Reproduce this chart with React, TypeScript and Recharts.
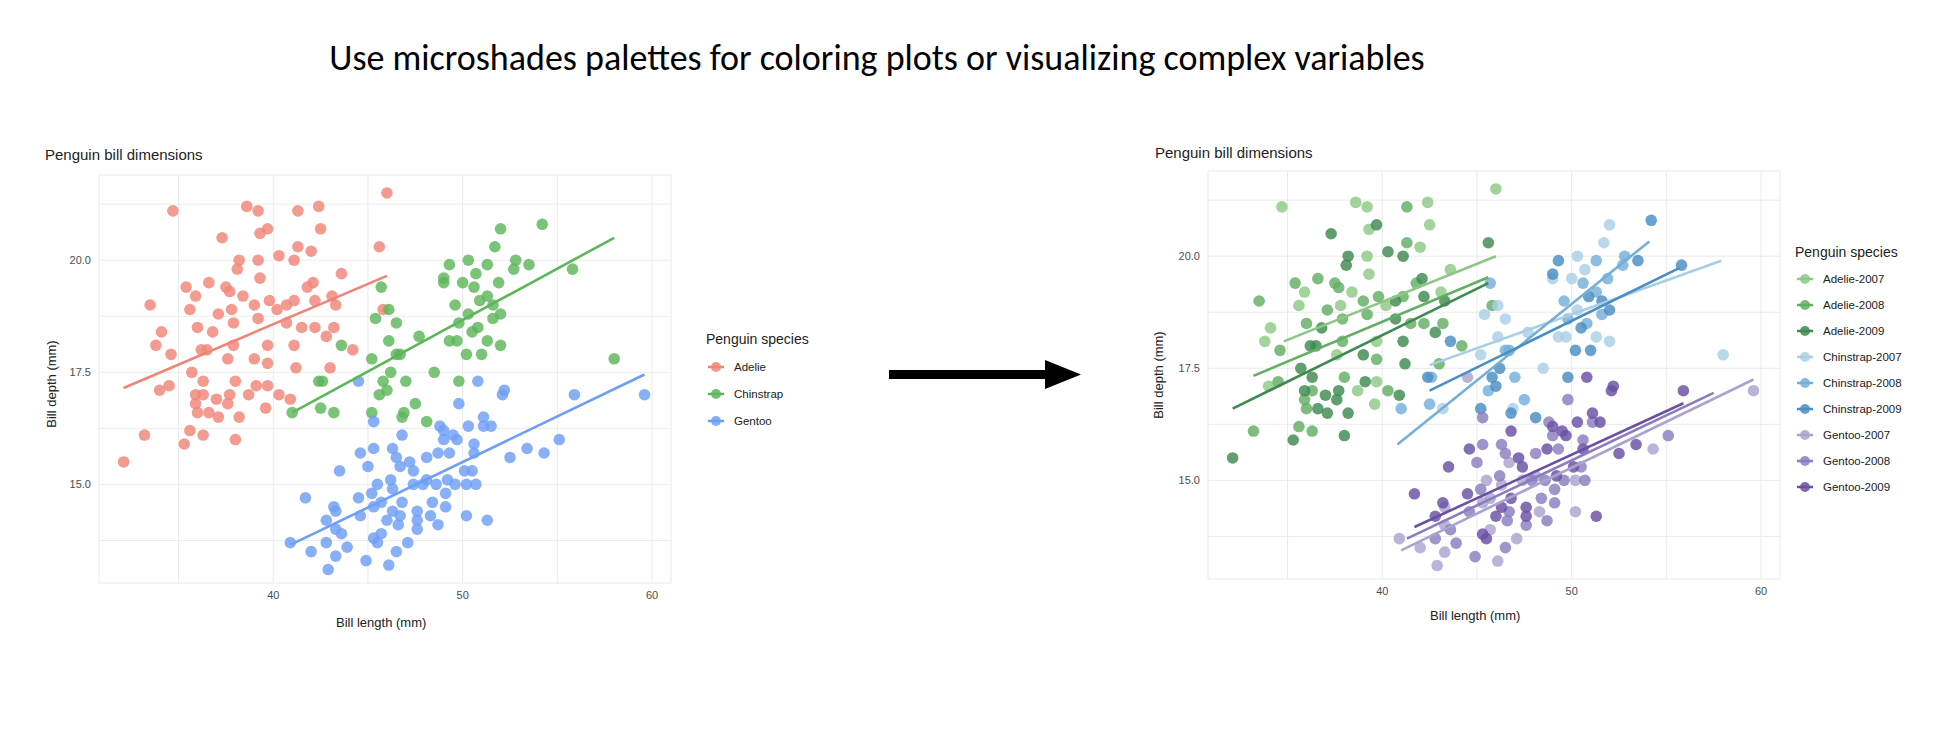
import React from "react";
import { ScatterChart, Scatter, XAxis, YAxis, CartesianGrid } from "recharts";

type Pt = [number, number, number];

// [bill length, bill depth, year (7/8/9 => 2007/2008/2009)]
const adelie: Pt[] = [
  [34.7,21.1,7],[38.6,21.2,7],[39.2,21.1,7],[41.3,21.1,8],[42.4,21.2,7],[46.0,21.5,7],[37.3,20.5,9],[39.7,20.7,9],
  [39.3,20.6,7],[42.5,20.7,7],[41.3,20.3,8],[42.0,20.2,7],[45.6,20.3,9],[40.3,20.1,9],[41.1,20.0,9],[38.2,20.0,9],
  [39.2,20.0,7],[38.1,19.8,9],[39.3,19.6,7],[43.6,19.7,7],[36.6,19.5,8],[35.4,19.4,8],[37.5,19.4,8],[42.1,19.5,9],
  [41.8,19.4,8],[33.5,19.0,8],[35.9,19.2,7],[37.7,19.3,8],[38.4,19.2,7],[39.8,19.1,8],[40.7,19.0,9],[41.1,19.1,8],
  [42.2,19.1,9],[43.1,19.2,7],[35.6,18.9,7],[37.1,18.8,8],[37.8,18.9,7],[39.0,19.0,8],[40.2,18.9,7],[43.3,19.0,9],
  [36.0,18.5,8],[36.8,18.4,9],[37.9,18.6,8],[39.2,18.7,8],[40.7,18.6,9],[41.5,18.5,8],[42.2,18.5,8],[43.2,18.5,8],
  [34.1,18.4,7],[33.8,18.1,7],[34.6,17.9,8],[36.5,18.0,9],[37.9,18.1,8],[39.7,18.1,7],[41.1,18.1,9],[42.8,18.3,9],
  [44.2,18.0,8],[36.2,18.0,9],[37.6,17.8,7],[39.0,17.8,9],[39.7,17.7,8],[41.2,17.6,9],[43.0,17.6,8],[35.7,17.5,9],
  [38.0,17.3,8],[39.1,17.2,9],[39.7,17.2,7],[36.3,17.3,9],[34.5,17.2,8],[34.0,17.1,7],[35.9,17.0,9],[36.3,17.0,8],
  [37.7,17.0,9],[38.7,17.0,7],[40.3,17.0,8],[40.9,16.9,9],[37.0,16.9,9],[35.9,16.8,8],[37.6,16.8,9],[39.6,16.7,7],
  [36.0,16.6,8],[36.6,16.6,9],[38.2,16.5,9],[37.1,16.5,9],[35.6,16.2,8],[36.3,16.1,8],[33.2,16.1,8],[38.0,16.0,9],
  [35.3,15.9,9],[32.1,15.5,9],[45.8,18.9,8],
];

const chinstrap: Pt[] = [
  [52.0,20.7,7],[54.2,20.8,9],[51.7,20.3,7],[49.3,19.9,9],[50.3,20.0,7],[51.3,19.9,8],[52.8,20.0,8],[53.5,19.9,9],
  [52.7,19.8,8],[55.8,19.8,9],[49.0,19.6,9],[49.0,19.5,7],[50.0,19.5,7],[50.7,19.7,7],[50.6,19.4,8],[51.9,19.5,8],
  [51.3,19.2,8],[45.7,19.4,8],[50.9,19.1,9],[51.6,19.0,9],[49.6,19.0,8],[50.3,18.8,7],[52.0,18.8,9],[46.1,18.9,7],
  [45.4,18.7,7],[51.6,18.7,8],[46.5,18.6,7],[49.8,18.6,8],[50.8,18.5,8],[50.5,18.4,9],[46.1,18.2,7],[47.7,18.3,7],
  [49.3,18.2,7],[49.7,18.2,7],[51.3,18.2,7],[43.6,18.1,9],[52.0,18.1,7],[50.2,17.9,9],[51.0,17.9,9],[46.5,17.9,8],
  [46.7,17.9,8],[45.2,17.8,7],[58.0,17.8,7],[46.2,17.5,9],[48.5,17.5,7],[45.8,17.3,9],[47.0,17.3,8],[49.8,17.3,9],
  [42.4,17.3,9],[42.6,17.3,8],[46.0,17.1,9],[45.6,17.0,8],[47.5,16.8,8],[41.0,16.6,8],[42.5,16.7,8],[43.2,16.6,7],
  [45.2,16.6,9],[46.9,16.6,7],[46.8,16.5,9],[48.1,16.4,9],
];

const gentoo: Pt[] = [
  [50.8,17.3,9],[44.5,17.3,7],[52.2,17.1,9],[52.1,17.0,9],[55.9,17.0,9],[59.6,17.0,7],[49.8,16.8,8],[45.3,16.4,8],
  [51.1,16.5,9],[51.1,16.3,8],[51.5,16.3,9],[48.8,16.3,8],[50.3,16.3,9],[46.8,16.1,9],[49.0,16.2,9],[49.5,16.1,9],
  [49.0,16.0,8],[55.1,16.0,8],[49.7,16.0,9],[50.6,15.9,8],[46.3,15.8,8],[45.3,15.8,8],[48.1,15.6,8],[48.7,15.7,9],
  [49.3,15.7,8],[50.6,15.7,9],[44.6,15.7,9],[53.4,15.8,9],[54.3,15.7,7],[52.5,15.6,9],[46.5,15.6,8],[47.2,15.5,9],
  [45.0,15.4,8],[46.7,15.4,7],[50.1,15.3,9],[50.5,15.3,8],[43.5,15.3,9],[47.4,15.3,9],[46.2,15.1,8],[48.1,15.1,7],
  [49.2,15.1,9],[47.4,15.0,7],[47.9,15.0,8],[48.6,15.0,8],[49.6,15.0,8],[50.2,15.0,7],[50.7,15.0,8],[45.5,15.0,7],
  [45.2,14.8,8],[46.3,14.9,7],[44.5,14.7,9],[41.7,14.7,9],[49.1,14.8,8],[45.7,14.6,7],[46.8,14.6,9],[48.4,14.6,8],
  [43.2,14.5,9],[45.3,14.5,7],[46.3,14.4,9],[49.1,14.5,8],[43.3,14.4,7],[44.6,14.3,8],[46.7,14.3,8],[47.6,14.4,9],
  [48.3,14.3,7],[50.2,14.3,7],[51.3,14.2,9],[42.8,14.2,9],[46.0,14.2,9],[47.6,14.2,9],[48.7,14.1,8],[43.3,14.0,7],
  [46.6,14.1,8],[47.6,14.0,8],[43.6,13.9,8],[45.7,13.9,7],[40.9,13.7,7],[42.8,13.7,8],[45.3,13.8,9],[45.5,13.7,9],
  [47.1,13.7,7],[42.0,13.5,7],[43.9,13.6,8],[46.5,13.5,8],[43.3,13.4,7],[44.9,13.3,8],[46.1,13.2,7],[42.9,13.1,7],
];

// fitted line endpoints: [x1, y1, x2, y2]
const speciesNames = ["Adelie", "Chinstrap", "Gentoo"];
const speciesColors = ["#F08577", "#5DB65A", "#6F9FF5"];
const speciesLines = [
  [32.1, 17.15, 46.0, 19.65],
  [41.0, 16.6, 58.0, 20.5],
  [40.9, 13.65, 59.6, 17.45],
];

const groupNames = [
  "Adelie-2007", "Adelie-2008", "Adelie-2009",
  "Chinstrap-2007", "Chinstrap-2008", "Chinstrap-2009",
  "Gentoo-2007", "Gentoo-2008", "Gentoo-2009",
];
const groupColors = [
  "#8CC985", "#62AE63", "#3E8A50",
  "#A9CFE6", "#74AFD9", "#4A8EC2",
  "#A9A3D0", "#8A7EC0", "#6A4FA3",
];
const groupLines = [
  [34.8, 18.1, 46.0, 20.0],
  [33.2, 17.33, 45.6, 19.53],
  [32.1, 16.6, 45.6, 19.4],
  [42.5, 17.57, 57.9, 19.9],
  [40.8, 15.8, 54.1, 20.33],
  [42.5, 17.0, 55.7, 19.74],
  [41.0, 13.44, 59.6, 17.25],
  [41.3, 13.7, 57.5, 16.95],
  [41.7, 13.96, 55.9, 16.72],
];

const xTicks = [35, 40, 45, 50, 55, 60];
const yTicks = [13.75, 15, 16.25, 17.5, 18.75, 20, 21.25];
const xMajor = [40, 50, 60];
const yMajor = [15, 17.5, 20];

const FONT = "'Liberation Sans', Arial, sans-serif";
const allSpecies = [adelie, chinstrap, gentoo];

const toObjs = (pts: Pt[]) => pts.map((p) => ({ x: p[0], y: p[1] }));
const Dot = (color: string) => (props: any) =>
  <circle cx={props.cx} cy={props.cy} r={5.8} fill={color} fillOpacity={0.82} />;
const NoDot = () => <g />;

function Panel({ left, top, groups, lines, colors }: any) {
  return (
    <div style={{ position: "absolute", left, top }}>
      <ScatterChart width={680} height={500} margin={{ top: 36, right: 10, bottom: 26, left: 48 }}>
        <CartesianGrid stroke="#EBEBEB" strokeWidth={1} />
        <XAxis
          type="number" dataKey="x" domain={[30.8, 61]} ticks={xTicks} axisLine={false} tickLine={false}
          height={30} tick={{ fill: "#4D4D4D", fontSize: 11, fontFamily: FONT }}
          tickFormatter={(v: number) => (xMajor.includes(v) ? String(v) : "")}
        />
        <YAxis
          type="number" dataKey="y" domain={[12.8, 21.9]} ticks={yTicks} axisLine={false} tickLine={false}
          width={50} tick={{ fill: "#4D4D4D", fontSize: 11, fontFamily: FONT }}
          tickFormatter={(v: number) => (yMajor.includes(v) ? v.toFixed(1) : "")}
        />
        {groups.map((g: any, i: number) => (
          <Scatter key={"p" + i} data={g} shape={Dot(colors[i])} isAnimationActive={false} />
        ))}
        {lines.map((l: number[], i: number) => (
          <Scatter
            key={"l" + i}
            data={[{ x: l[0], y: l[1] }, { x: l[2], y: l[3] }]}
            line={{ stroke: colors[i], strokeWidth: 2.6 }}
            shape={NoDot}
            isAnimationActive={false}
          />
        ))}
      </ScatterChart>
    </div>
  );
}

function LegendBox({ left, top, names, colors, gap }: any) {
  return (
    <div style={{ position: "absolute", left, top, fontFamily: FONT }}>
      <div style={{ fontSize: 14, color: "#222", marginBottom: 6 }}>Penguin species</div>
      {names.map((n: string, i: number) => (
        <div key={n} style={{ display: "flex", alignItems: "center", height: gap }}>
          <svg width={20} height={14}>
            <line x1={2} x2={18} y1={7} y2={7} stroke={colors[i]} strokeWidth={2.5} />
            <circle cx={10} cy={7} r={5} fill={colors[i]} fillOpacity={0.85} />
          </svg>
          <span style={{ fontSize: 11.5, color: "#222", marginLeft: 8 }}>{n}</span>
        </div>
      ))}
    </div>
  );
}

const abs = (l: number, t: number, extra: any = {}) => ({ position: "absolute" as const, left: l, top: t, fontFamily: FONT, ...extra });

export default function App() {
  const leftGroups = allSpecies.map(toObjs);
  const rightGroups: any[] = [];
  allSpecies.forEach((sp) => [7, 8, 9].forEach((yr) => rightGroups.push(toObjs(sp.filter((p) => p[2] === yr)))));
  return (
    <div style={{ position: "absolute", left: 0, top: 0, width: 1958, height: 756, background: "#fff" }}>
      <div style={abs(0, 36, { width: 1754, textAlign: "center", fontSize: 36, color: "#000", fontFamily: "Carlito, 'Liberation Sans', sans-serif" })}>
        Use microshades palettes for coloring plots or visualizing complex variables
      </div>

      <div style={abs(45, 146, { fontSize: 15, color: "#222" })}>Penguin bill dimensions</div>
      <Panel left={1} top={139} groups={leftGroups} lines={speciesLines} colors={speciesColors} />
      <div style={abs(336, 615, { fontSize: 13, color: "#222" })}>Bill length (mm)</div>
      <div style={abs(51, 384, { fontSize: 13, color: "#222", transform: "translate(-50%,-50%) rotate(-90deg)", whiteSpace: "nowrap" })}>Bill depth (mm)</div>
      <LegendBox left={706} top={331} names={speciesNames} colors={speciesColors} gap={27} />

      <svg style={{ position: "absolute", left: 885, top: 355 }} width={200} height={40}>
        <rect x={4} y={15} width={160} height={9} fill="#000" />
        <polygon points="160,5 196,19.5 160,34" fill="#000" />
      </svg>

      <div style={abs(1155, 144, { fontSize: 15, color: "#222" })}>Penguin bill dimensions</div>
      <Panel left={1110} top={135} groups={rightGroups} lines={groupLines} colors={groupColors} />
      <div style={abs(1430, 608, { fontSize: 13, color: "#222" })}>Bill length (mm)</div>
      <div style={abs(1158, 375, { fontSize: 13, color: "#222", transform: "translate(-50%,-50%) rotate(-90deg)", whiteSpace: "nowrap" })}>Bill depth (mm)</div>
      <LegendBox left={1795} top={244} names={groupNames} colors={groupColors} gap={26} />
    </div>
  );
}
